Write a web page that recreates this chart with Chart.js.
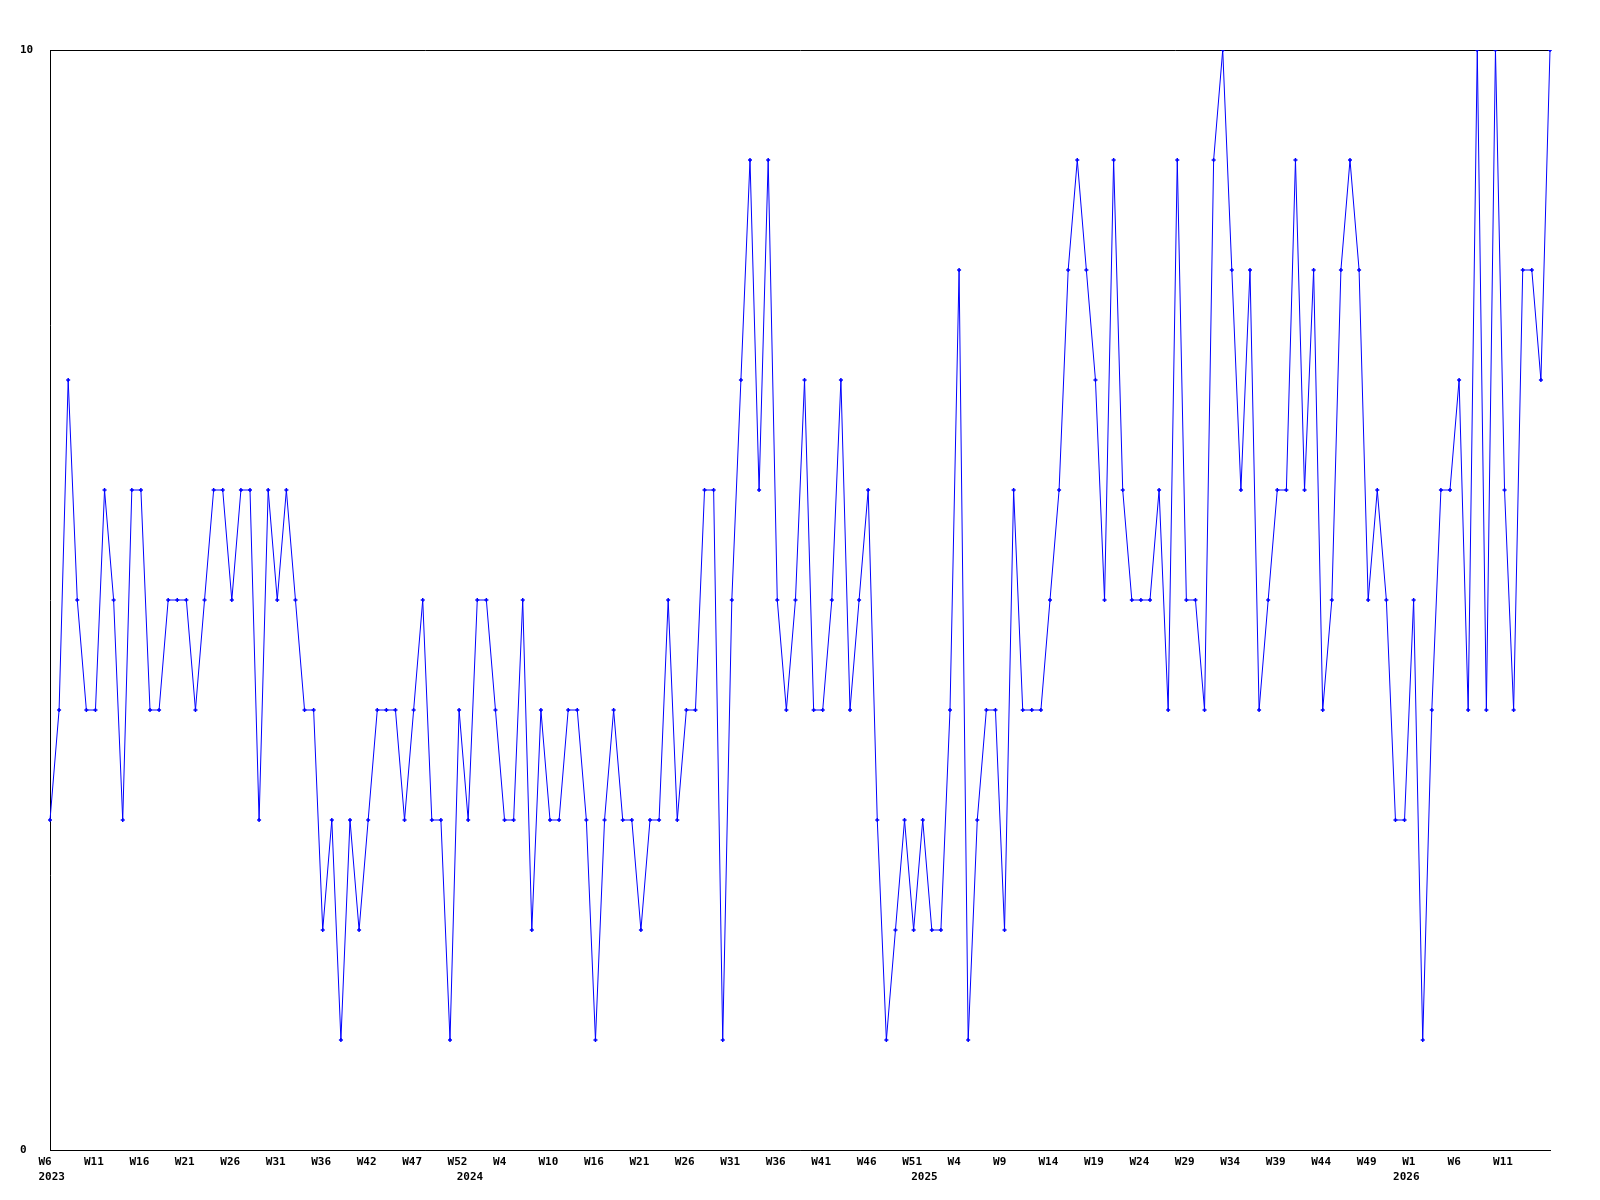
<!DOCTYPE html>
<html>
<head>
<meta charset="utf-8">
<script src="https://cdn.jsdelivr.net/npm/chart.js@4"></script>
<style>
  body { margin: 0; background: #fff; }
</style>
</head>
<body>
<canvas id="chart" width="1600" height="1200"></canvas>
<script>
// one value per week, first point is 2023 W6
const values = [
  3, 4, 7, 5, 4, 4, 6, 5, 3, 6, 6, 4, 4, 5, 5, 5, 4, 5, 6, 6, 5, 6,
  6, 3, 6, 5, 6, 5, 4, 4, 2, 3, 1, 3, 2, 3, 4, 4, 4, 3, 4, 5,
  3, 3, 1, 4, 3, 5, 5, 4, 3, 3, 5, 2, 4, 3, 3, 4, 4, 3, 1, 3, 4,
  3, 3, 2, 3, 3, 5, 3, 4, 4, 6, 6, 1, 5, 7, 9, 6, 9, 5, 4, 5, 7,
  4, 4, 5, 7, 4, 5, 6, 3, 1, 2, 3, 2, 3, 2, 2, 4, 8, 1, 3, 4, 4,
  2, 6, 4, 4, 4, 5, 6, 8, 9, 8, 7, 5, 9, 6, 5, 5, 5, 6, 4, 9, 5,
  5, 4, 9, 10, 8, 6, 8, 4, 5, 6, 6, 9, 6, 8, 4, 5, 8, 9, 8, 5, 6,
  5, 3, 3, 5, 1, 4, 6, 6, 7, 4, 10, 4, 10, 6, 4, 8, 8, 7, 10
];

// a week label on every 5th point
const weekTicks = [
  'W6', 'W11', 'W16', 'W21', 'W26', 'W31', 'W36', 'W42', 'W47', 'W52',
  'W4', 'W10', 'W16', 'W21', 'W26', 'W31', 'W36', 'W41', 'W46', 'W51',
  'W4', 'W9', 'W14', 'W19', 'W24', 'W29', 'W34', 'W39', 'W44', 'W49',
  'W1', 'W6', 'W11'
];
const weekTickStep = 5;

// year labels on the second line
const yearTickIndex = [0, 46, 96, 149];
const yearTickLabel = ['2023', '2024', '2025', '2026'];

const yTicks = [0, 10];

function buildLabels() {
  return values.map((v, i) => {
    let week = '';
    if (i % weekTickStep === 0 && weekTicks[i / weekTickStep]) {
      week = weekTicks[i / weekTickStep];
    }
    const y = yearTickIndex.indexOf(i);
    if (y >= 0) {
      return [week, yearTickLabel[y]];
    }
    return week;
  });
}

const tickFont = {
  family: '"DejaVu Sans Mono", monospace',
  size: 11,
  weight: 'bold',
  lineHeight: 1.36
};

new Chart(document.getElementById('chart'), {
  type: 'line',
  data: {
    labels: buildLabels(),
    datasets: [{
      data: values,
      borderColor: '#0000ff',
      backgroundColor: '#0000ff',
      borderWidth: 1,
      tension: 0,
      pointStyle: 'cross',
      pointRadius: 2,
      pointBorderWidth: 1.5,
      pointBorderColor: '#0000ff'
    }]
  },
  options: {
    responsive: false,
    animation: false,
    layout: {
      padding: { left: 20, top: 50, right: 50, bottom: 0 }
    },
    plugins: {
      legend: { display: false },
      tooltip: { enabled: false }
    },
    scales: {
      x: {
        grid: { display: false, drawTicks: false },
        border: { display: true, color: '#000', width: 1 },
        ticks: {
          autoSkip: false,
          maxRotation: 0,
          minRotation: 0,
          align: 'start',
          labelOffset: -11.5,
          padding: 5,
          color: '#000',
          font: tickFont
        },
        afterFit: (axis) => { axis.height = 50; }
      },
      y: {
        min: yTicks[0],
        max: yTicks[1],
        grid: { display: true, color: '#000', lineWidth: 1, drawTicks: false },
        border: { display: true, color: '#000', width: 1 },
        ticks: {
          stepSize: yTicks[1] - yTicks[0],
          crossAlign: 'far',
          padding: 0,
          color: '#000',
          font: tickFont
        },
        afterFit: (axis) => { axis.width = 30; }
      }
    }
  }
});
</script>
</body>
</html>
